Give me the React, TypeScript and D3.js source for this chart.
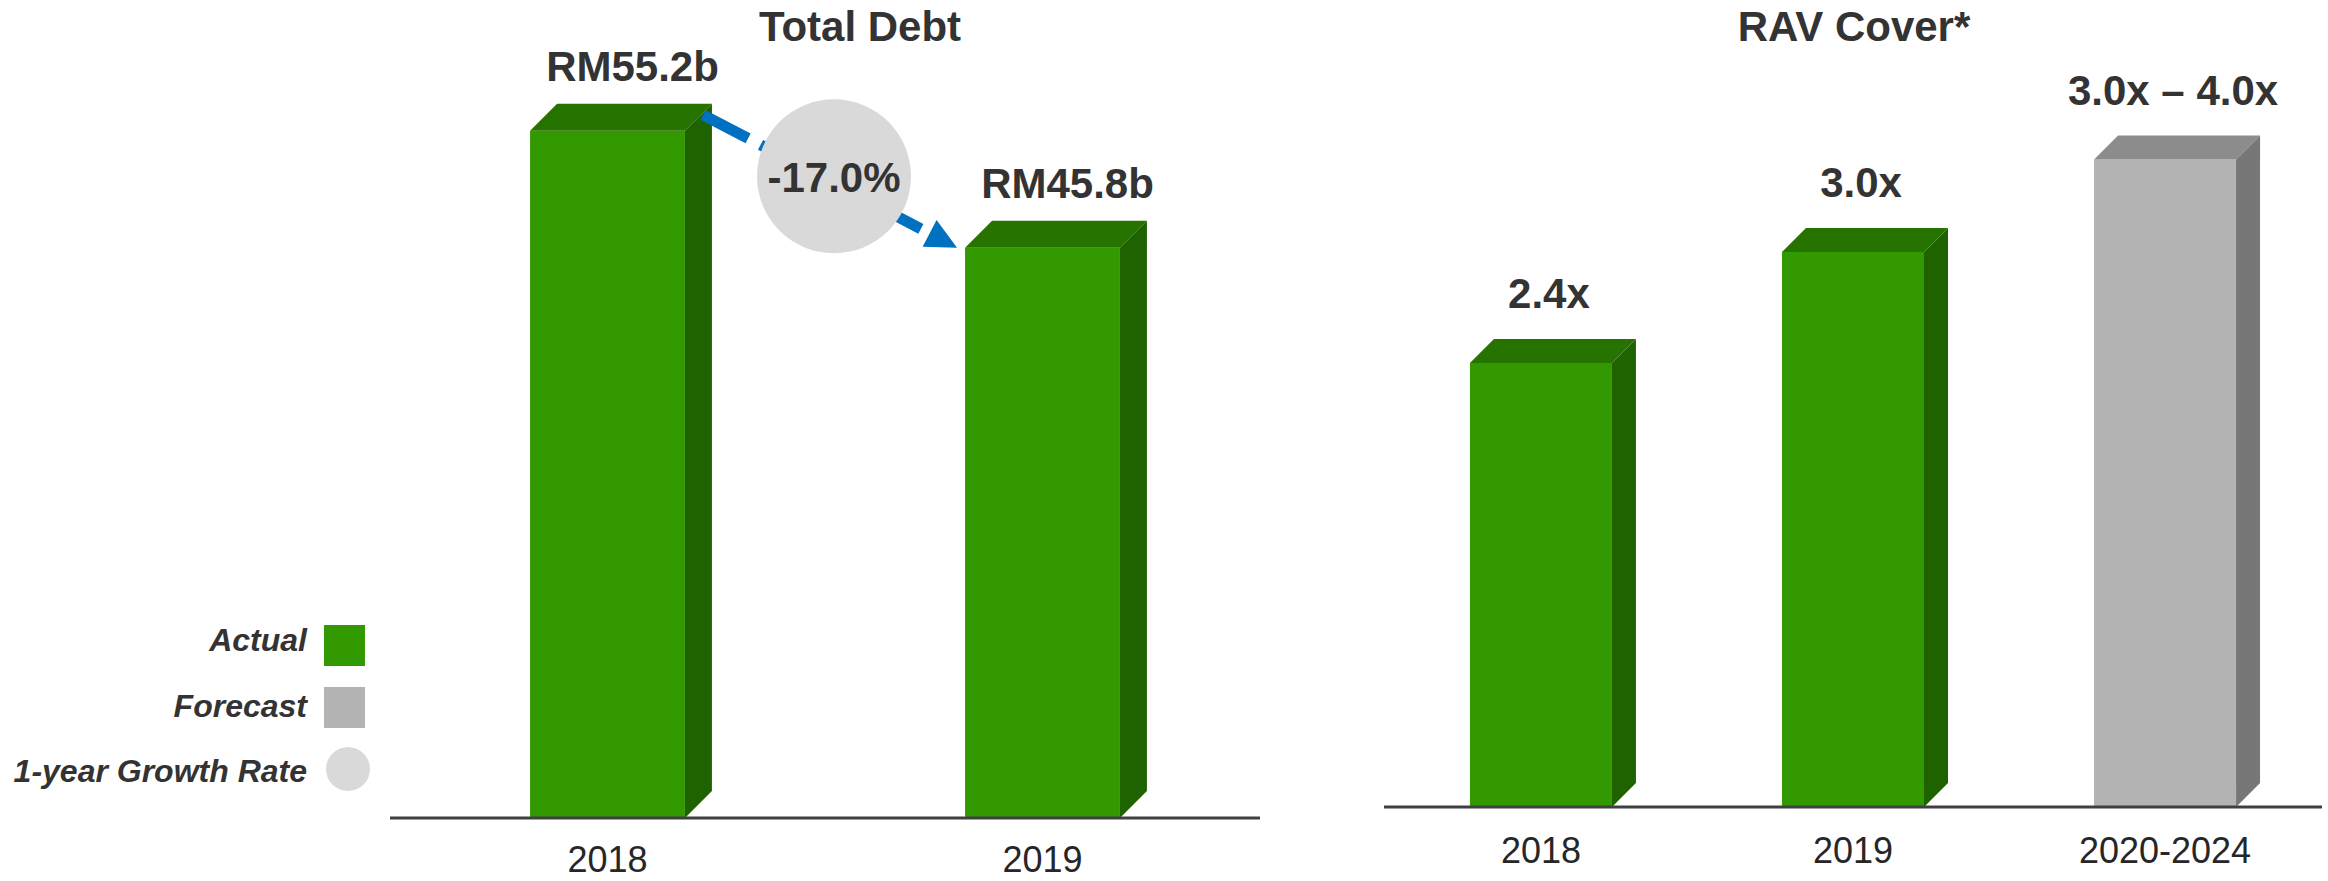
import React from "react";
import * as d3 from "d3";

// ---------- data ----------
const debtCategories = ["2018", "2019"];
const debtValues = [55.2, 45.8];
const debtLabels = ["RM55.2b", "RM45.8b"];
const growthLabel = "-17.0%";

const ravCategories = ["2018", "2019", "2020-2024"];
const ravValues = [2.4, 3.0, 3.5];
const ravLabels = ["2.4x", "3.0x", "3.0x \u2013 4.0x"];
const ravKinds = ["actual", "actual", "forecast"];

const legendItems = ["Actual", "Forecast", "1-year Growth Rate"];

// ---------- styles ----------
const W = 2328;
const H = 881;
const FONT = "'Liberation Sans', Arial, Helvetica, sans-serif";
const TEXT = "#333333";
const AXIS_TEXT = "#262626";
const COLORS: Record<string, { front: string; top: string; side: string }> = {
  actual: { front: "#339900", top: "#267300", side: "#1F6200" },
  forecast: { front: "#B3B3B3", top: "#8C8C8C", side: "#777777" },
};
const ARROW = "#0070C0";
const BUBBLE = "#D9D9D9";

type Bar3DProps = {
  x: number;
  w: number;
  yTop: number;
  yBase: number;
  d: number;
  kind: string;
};

function Bar3D({ x, w, yTop, yBase, d, kind }: Bar3DProps) {
  const c = COLORS[kind];
  const xr = x + w;
  const top = [
    [x, yTop],
    [x + d, yTop - d],
    [xr + d, yTop - d],
    [xr, yTop],
  ];
  const side = [
    [xr, yTop],
    [xr + d, yTop - d],
    [xr + d, yBase - d],
    [xr, yBase],
  ];
  const pts = (p: number[][]) => p.map((q) => q.join(",")).join(" ");
  return (
    <g>
      <rect x={x} y={yTop} width={w} height={yBase - yTop} fill={c.front} />
      <polygon points={pts(side)} fill={c.side} />
      <polygon points={pts(top)} fill={c.top} />
    </g>
  );
}

export default function App() {
  // ---- left chart: Total Debt ----
  const lx = d3
    .scaleBand<string>()
    .domain(debtCategories)
    .range([390, 1260])
    .paddingInner(0.644)
    .paddingOuter(0.322);
  const ly = d3.scaleLinear().domain([0, 60]).range([818, 71]);
  const lDepth = 27;

  // ---- right chart: RAV Cover ----
  const rx = d3
    .scaleBand<string>()
    .domain(ravCategories)
    .range([1384, 2322])
    .paddingInner(0.545)
    .paddingOuter(0.2755);
  const ry = d3.scaleLinear().domain([0, 4]).range([807, 67]);
  const rDepth = 24;

  // ---- arrow between the debt bars ----
  const x0 = (lx(debtCategories[0]) as number) + lx.bandwidth();
  const x1 = lx(debtCategories[1]) as number;
  const a0: [number, number] = [x0 + 18, ly(debtValues[0]) - 16];
  const tip: [number, number] = [x1 - 8, ly(debtValues[1])];
  const ang = Math.atan2(tip[1] - a0[1], tip[0] - a0[0]);
  const headLen = 31;
  const headHalf = 15;
  const baseMid: [number, number] = [
    tip[0] - headLen * Math.cos(ang),
    tip[1] - headLen * Math.sin(ang),
  ];
  const nx = -Math.sin(ang);
  const ny = Math.cos(ang);
  const headPts = [
    tip,
    [baseMid[0] + nx * headHalf, baseMid[1] + ny * headHalf],
    [baseMid[0] - nx * headHalf, baseMid[1] - ny * headHalf],
  ]
    .map((p) => p.join(","))
    .join(" ");
  const bubble = {
    cx: (a0[0] + tip[0]) / 2 + 4,
    cy: (a0[1] + tip[1]) / 2 - 5,
    r: 77,
  };

  const lineGen = d3.line();

  return (
    <svg
      width={W}
      height={H}
      viewBox={`0 0 ${W} ${H}`}
      style={{ position: "absolute", left: 0, top: 0, background: "#fff" }}
      fontFamily={FONT}
    >
      <rect width={W} height={H} fill="#ffffff" />

      {/* ---------- LEFT CHART ---------- */}
      <text x={860} y={41} textAnchor="middle" fontSize={42} fontWeight="bold" fill={TEXT}>
        Total Debt
      </text>
      {debtCategories.map((c, i) => (
        <Bar3D
          key={c}
          x={lx(c) as number}
          w={lx.bandwidth()}
          yTop={ly(debtValues[i])}
          yBase={ly(0)}
          d={lDepth}
          kind="actual"
        />
      ))}
      <line x1={390} x2={1260} y1={ly(0)} y2={ly(0)} stroke="#404040" strokeWidth={3} />
      {debtCategories.map((c, i) => (
        <text
          key={"dl" + c}
          x={(lx(c) as number) + lx.bandwidth() / 2 + 25}
          y={ly(debtValues[i]) - 50}
          textAnchor="middle"
          fontSize={42}
          fontWeight="bold"
          fill={TEXT}
        >
          {debtLabels[i]}
        </text>
      ))}
      {debtCategories.map((c) => (
        <text
          key={"dx" + c}
          x={(lx(c) as number) + lx.bandwidth() / 2}
          y={ly(0) + 54}
          textAnchor="middle"
          fontSize={36}
          fill={AXIS_TEXT}
        >
          {c}
        </text>
      ))}

      {/* growth arrow */}
      <path
        d={lineGen([a0, baseMid]) || ""}
        stroke={ARROW}
        strokeWidth={11}
        strokeDasharray="51 14"
        fill="none"
      />
      <polygon points={headPts} fill={ARROW} />
      <circle cx={bubble.cx} cy={bubble.cy} r={bubble.r} fill={BUBBLE} />
      <text
        x={bubble.cx}
        y={bubble.cy + 16}
        textAnchor="middle"
        fontSize={42}
        fontWeight="bold"
        fill={TEXT}
      >
        {growthLabel}
      </text>

      {/* legend */}
      {legendItems.map((t, i) => (
        <text
          key={"lg" + t}
          x={307}
          y={651 + i * 65.5}
          textAnchor="end"
          fontSize={32}
          fontWeight="bold"
          fontStyle="italic"
          fill={TEXT}
        >
          {t}
        </text>
      ))}
      <rect x={324} y={625} width={41} height={41} fill={COLORS.actual.front} />
      <rect x={324} y={687} width={41} height={41} fill={COLORS.forecast.front} />
      <circle cx={348} cy={769} r={22} fill={BUBBLE} />

      {/* ---------- RIGHT CHART ---------- */}
      <text x={1854} y={41} textAnchor="middle" fontSize={42} fontWeight="bold" fill={TEXT}>
        RAV Cover*
      </text>
      {ravCategories.map((c, i) => (
        <Bar3D
          key={c}
          x={rx(c) as number}
          w={rx.bandwidth()}
          yTop={ry(ravValues[i])}
          yBase={ry(0)}
          d={rDepth}
          kind={ravKinds[i]}
        />
      ))}
      <line x1={1384} x2={2322} y1={ry(0)} y2={ry(0)} stroke="#404040" strokeWidth={3} />
      {ravCategories.map((c, i) => (
        <text
          key={"rl" + c}
          x={(rx(c) as number) + rx.bandwidth() / 2 + 8}
          y={ry(ravValues[i]) - 55}
          textAnchor="middle"
          fontSize={42}
          fontWeight="bold"
          fill={TEXT}
        >
          {ravLabels[i]}
        </text>
      ))}
      {ravCategories.map((c) => (
        <text
          key={"rx" + c}
          x={(rx(c) as number) + rx.bandwidth() / 2}
          y={ry(0) + 56}
          textAnchor="middle"
          fontSize={36}
          fill={AXIS_TEXT}
        >
          {c}
        </text>
      ))}
    </svg>
  );
}
